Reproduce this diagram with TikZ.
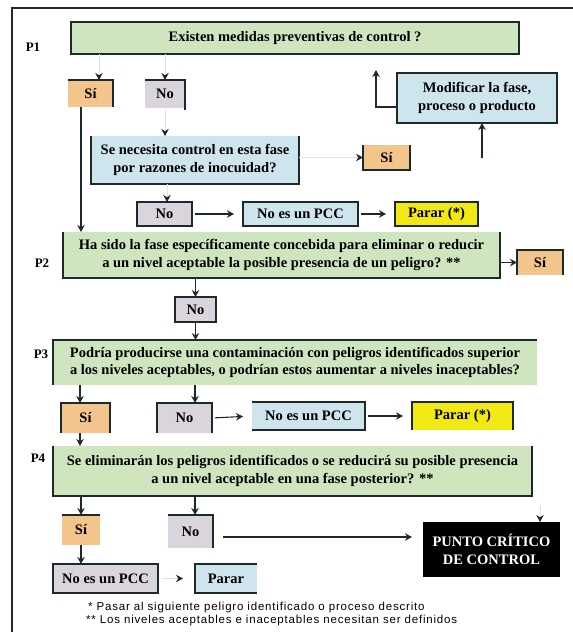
\documentclass[tikz,border=0pt]{standalone}
\usepackage{fontspec}
\setmainfont{Liberation Serif}
\newfontfamily\notefont[LetterSpace=7]{Liberation Sans}
\usetikzlibrary{arrows.meta}

\definecolor{borde}{RGB}{30,42,42}
\definecolor{verde}{RGB}{206,229,192}
\definecolor{naranja}{RGB}{243,196,140}
\definecolor{gris}{RGB}{218,213,220}
\definecolor{celeste}{RGB}{206,229,238}
\definecolor{amarillo}{RGB}{242,232,20}

\begin{document}
\begin{tikzpicture}[x=1pt,y=-1pt,
  box/.style={inner sep=0pt,outer sep=0pt,align=center,font=\fontsize{14.5}{17.5}\selectfont\bfseries},
  wh/.style 2 args={minimum width=#1,minimum height=#2},
  qbox/.style={box,fill=verde},
  sibox/.style={box,fill=naranja},
  nobox/.style={box,fill=gris},
  bluebox/.style={box,fill=celeste},
  stopbox/.style={box,fill=amarillo},
  full/.style={draw=borde,line width=1.2pt},
  rim/.style={draw=borde,line width=1.2pt},
  arr/.style={draw=borde,line width=1.1pt,-{Stealth[length=7pt,width=7.5pt]}},
  stub/.style={draw=black!12,line width=0.8pt,-{Stealth[length=7pt,width=7.5pt,color=borde]}},
  gap/.style={shorten <=3pt,shorten >=9pt},
  tag/.style={font=\fontsize{13}{15}\selectfont\bfseries},
  note/.style={inner sep=0pt,font=\notefont\fontsize{11.5}{13}\selectfont}]
  \useasboundingbox (0,0) rectangle (573,632);

  % 外框
  \draw[line width=2.2pt,draw=borde] (573,8) -- (12,8) -- (12,632);

  % P1
  \node[qbox,full,wh={448pt}{32pt}] (q1) at (295,38) {Existen medidas preventivas de control ?};
  \node[tag] (p1) at (33,47) {P1};
  \node[sibox,wh={45pt}{27pt}] (siA) at (90.5,93.5) {Sí};
  \node[nobox,wh={40pt}{28pt}] (noA) at (165,94) {No};
  \node[bluebox,wh={208pt}{48pt}] (q1b) at (195,160) {Se necesita control en esta fase\\por razones de inocuidad?};
  \node[sibox,wh={47pt}{25pt}] (siB) at (386.5,157.5) {Sí};
  \node[bluebox,full,wh={160pt}{50pt}] (mod) at (477,98) {Modificar la fase,\\proceso o producto};
  \node[nobox,full,wh={55pt}{24pt}] (noB) at (164.5,214) {No};
  \node[bluebox,full,wh={115pt}{24pt}] (pccA) at (300.5,214) {No es un PCC};
  \node[stopbox,full,wh={83pt}{24pt}] (parA) at (436.5,214) {Parar (*)};

  % P2
  \node[qbox,wh={437pt}{46pt}] (q2) at (281.5,255) {Ha sido la fase específicamente concebida para eliminar o reducir\\a un nivel aceptable la posible presencia de un peligro? **};
  \node[tag] (p2) at (42,263) {P2};
  \node[sibox,wh={46pt}{25pt}] (siC) at (540,262.5) {Sí};
  \node[nobox,full,wh={41pt}{25pt}] (noC) at (195.5,309.5) {No};

  % P3
  \node[qbox,wh={484pt}{45pt}] (q3) at (295,362.5) {Podría producirse una contaminación con peligros identificados superior\\a los niveles aceptables, o podrían estos aumentar a niveles inaceptables?};
  \node[tag] (p3) at (41,354) {P3};
  \node[sibox,wh={49pt}{30pt}] (siD) at (85.5,418) {Sí};
  \node[nobox,wh={55pt}{30pt}] (noD) at (184.5,418) {No};
  \node[bluebox,wh={113pt}{28pt}] (pccB) at (308.5,416) {No es un PCC};
  \node[stopbox,wh={101pt}{28pt}] (parD) at (462.5,416) {Parar (*)};

  % P4
  \node[qbox,wh={479pt}{50pt}] (q4) at (292.5,471) {Se eliminarán los peligros identificados o se reducirá su posible presencia\\a un nivel aceptable en una fase posterior? **};
  \node[tag] (p4) at (38,458) {P4};
  \node[sibox,wh={38pt}{30pt}] (siE) at (81,530) {Sí};
  \node[nobox,wh={45pt}{33pt}] (noE) at (190.5,531.5) {No};
  \node[nobox,full,wh={105pt}{29pt}] (pccC) at (105.5,578.5) {No es un PCC};
  \node[bluebox,wh={62pt}{29pt}] (parE) at (226,578.5) {Parar};
  \node[box,fill=black,text=white,wh={137pt}{55pt},font=\fontsize{14.5}{18}\selectfont\bfseries] (punto) at (491.5,549.5) {PUNTO CRÍTICO\\DE CONTROL};

  % 边框
  \draw[rim] (siA.north west) -- (siA.north east) -- (siA.south east);
  \draw[rim] (noA.north west) -- (noA.north east) -- ([yshift=-2pt]noA.south east);
  \draw[rim] (q1b.north west) -- (q1b.south west) -- (q1b.south east) -- (q1b.north east);
  \draw[rim] (siB.north west) -- (siB.south west) -- (siB.south east) -- (siB.north east);
  \draw[rim] (q2.north west) -- (q2.south west) -- (q2.south east) -- (q2.north east);
  \draw[rim] (siC.south west) -- (siC.north west) -- (siC.north east) -- (siC.south east);
  \draw[rim] (q3.south west) -- (q3.north west) -- (q3.north east);
  \draw[rim] (siD.south west) -- (siD.north west) -- (siD.north east) -- (siD.south east);
  \draw[rim] (noD.south west) -- (noD.north west) -- (noD.north east) -- (noD.south east);
  \draw[rim] (pccB.north west) -- (pccB.north east) -- (pccB.south east) -- (pccB.south west);
  \draw[rim] (parD.south west) -- (parD.north west) -- (parD.north east) -- (parD.south east);
  \draw[rim] (q4.north west) -- (q4.south west) -- (q4.south east) -- (q4.north east);
  \draw[rim] (siE.north west) -- (siE.north east);
  \draw[rim] (noE.north west) -- (noE.north east) -- (noE.south east);
  \draw[rim] (parE.north east) -- (parE.north west) -- (parE.south west) -- (parE.south east);

  % 连线
  \coordinate (upA) at (376,70);
  \coordinate (upB) at (482,158);
  \coordinate (upC) at (540,506);
  \draw[stub] ([xshift=8.5pt]siA.north |- q1.south) -- ([xshift=8.5pt]siA.north);
  \draw[stub] (noA.north |- q1.south) -- (noA.north);
  \draw[stub] ([yshift=-2pt]noA.south) -- (noA.south |- q1b.north);
  \draw[stub] (siB.west -| q1b.east) -- (siB.west);
  \draw[arr] ([yshift=-9pt]mod.west) -| (upA);
  \draw[arr] (upB) -- (upB |- mod.south);
  \draw[arr] ([xshift=-9.5pt]siA.south) -- ([xshift=-9.5pt]siA.south |- q2.north);
  \draw[stub] ([xshift=2.5pt]noB.north |- q1b.south) -- ([xshift=2.5pt]noB.north);
  \draw[arr,gap] (noB.east) -- (pccA.west);
  \draw[arr,gap] (pccA.east) -- (parA.west);
  \draw[arr] (siC.west -| q2.east) -- (siC.west);
  \draw[arr] (noC.north |- q2.south) -- (noC.north);
  \draw[arr] (noC.south) -- (noC.south |- q3.north);
  \draw[arr] ([xshift=-5.5pt]siD.north |- q3.south) -- ([xshift=-5.5pt]siD.north);
  \draw[arr] ([xshift=10.5pt]noD.north |- q3.south) -- ([xshift=10.5pt]noD.north);
  \draw[arr,gap] (noD.east) -- (pccB.west);
  \draw[arr,gap] (pccB.east) -- (parD.west);
  \draw[arr] ([xshift=-5.5pt]siD.south) -- ([xshift=-5.5pt]siD.south |- q4.north);
  \draw[arr] (siE.north |- q4.south) -- (siE.north);
  \draw[arr] ([xshift=4.5pt]noE.north |- q4.south) -- ([xshift=4.5pt]noE.north);
  \draw[arr,shorten <=10pt,shorten >=11pt] ([yshift=-5.5pt]noE.east) -- ([yshift=-5.5pt]noE.east -| punto.west);
  \draw[stub] (upC) -- (upC |- punto.north);
  \draw[arr] (siE.south) -- (siE.south |- pccC.north);
  \draw[stub,shorten <=4pt,shorten >=12pt] (pccC.east) -- (parE.west);

  % 注释
  \node[note,anchor=west] (n1) at (88,608) {* Pasar al siguiente peligro identificado o proceso descrito};
  \node[note,anchor=west] (n2) at (86,621) {** Los niveles aceptables e inaceptables necesitan ser definidos};
\end{tikzpicture}
\end{document}
